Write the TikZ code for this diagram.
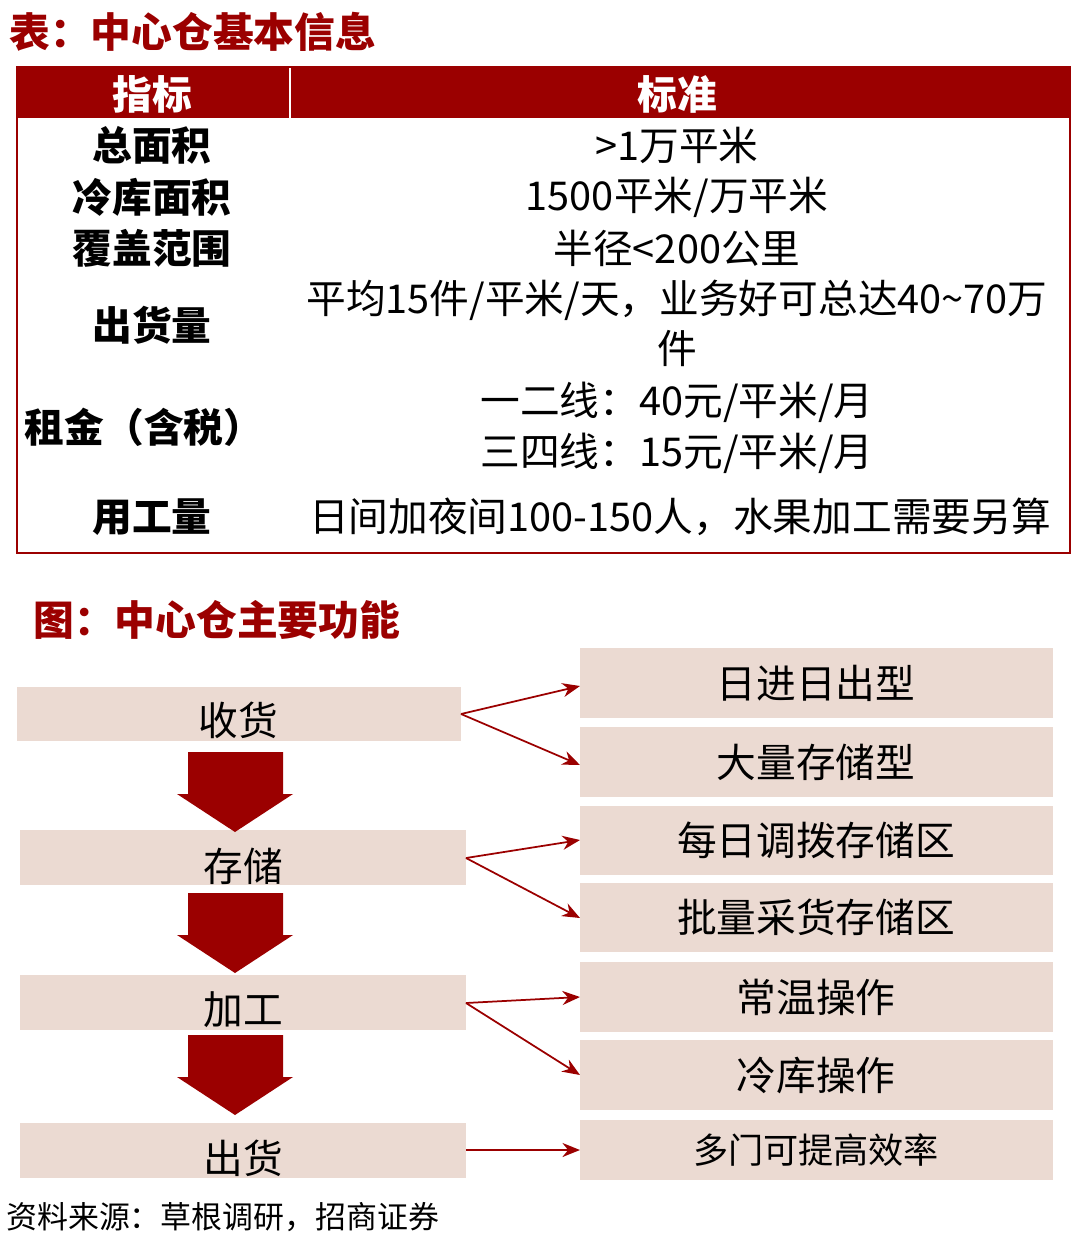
\documentclass[tikz,border=0pt]{standalone}
\usepackage{fontspec}
\setmainfont{Noto Sans CJK SC}
\usetikzlibrary{arrows.meta}
\definecolor{dred}{HTML}{9B0000}
\definecolor{boxc}{HTML}{EBDAD2}
\begin{document}
\begin{tikzpicture}[x=0.1cm,y=-0.1cm,
  big/.style={font=\fontsize{113}{125}\selectfont},
  lab/.style={font=\fontsize{113}{125}\selectfont\bfseries},
  ttl/.style={font=\fontsize{116}{130}\selectfont\bfseries,text=dred,anchor=west},
  lbox/.style={fill=boxc,draw=none},
  conn/.style={draw=dred,line width=5pt,-{Stealth[length=50pt,width=40pt]}},
  downarr/.style={fill=dred,draw=none}]
\useasboundingbox (0,0) rectangle (1080,1248);
\node[ttl] (t1) at (8,32) {表：中心仓基本信息};
\fill[dred] (17,67) rectangle (1070,118);
\draw[white,line width=3pt] (290,67) -- (290,118);
\draw[dred,line width=6pt] (17,67) rectangle (1070,553);
\node[lab,text=white] (h1) at (152,94) {指标};
\node[lab,text=white] (h2) at (677,94) {标准};
\node[lab] (a1) at (152,145) {总面积};
\node[big] (b1) at (677,145) {>1万平米};
\node[lab] (a2) at (152,197) {冷库面积};
\node[big] (b2) at (677,197) {1500平米/万平米};
\node[lab] (a3) at (152,248) {覆盖范围};
\node[big] (b3) at (677,248) {半径<200公里};
\node[lab] (a4) at (152,325) {出货量};
\node[big] (b4) at (677,300) {平均15件/平米/天，业务好可总达40\textasciitilde70万};
\node[big] (b4b) at (677,348) {件};
\node[lab] (a5) at (144,427) {租金（含税）};
\node[big] (b5) at (677,402) {一二线：40元/平米/月};
\node[big] (b5b) at (677,453) {三四线：15元/平米/月};
\node[lab] (a6) at (152,517) {用工量};
\node[big] (b6) at (680,517) {日间加夜间100-150人，水果加工需要另算};
\node[ttl] (t2) at (32,620) {图：中心仓主要功能};
\fill[lbox] (17,687) rectangle (461,741);
\fill[lbox] (20,830) rectangle (466,885);
\fill[lbox] (20,975) rectangle (466,1030);
\fill[lbox] (20,1123) rectangle (466,1178);
\node[big] (l1) at (238,720) {收货};
\node[big] (l2) at (243,866) {存储};
\node[big] (l3) at (243,1010) {加工};
\node[big] (l4) at (243,1158) {出货};
\foreach \y in {752,893,1035}{
 \fill[downarr] (188,\y) -- (283,\y) -- (283,\y+42) -- (293,\y+42) -- (235,\y+80) -- (177,\y+42) -- (188,\y+42) -- cycle;}
\foreach \n/\a/\b/\t in {r1/648/718/日进日出型,r2/727/797/大量存储型,r3/806/875/每日调拨存储区,r4/883/952/批量采货存储区,r5/962/1032/常温操作,r6/1040/1110/冷库操作}{
 \fill[lbox] (580,\a) rectangle (1053,\b);
 \node[big] (\n) at (816,{(\a+\b)/2}) {\t};}
\fill[lbox] (580,1120) rectangle (1053,1180);
\node[font=\fontsize{100}{112}\selectfont] (r7) at (816,1150) {多门可提高效率};
\coordinate (s1) at (461,714); \coordinate (s2) at (466,858);
\coordinate (s3) at (466,1003); \coordinate (s4) at (466,1150);
\coordinate (e1) at (580,686); \coordinate (e2) at (580,765);
\coordinate (e3) at (580,840); \coordinate (e4) at (580,918);
\coordinate (e5) at (580,997); \coordinate (e6) at (580,1075);
\coordinate (e7) at (580,1150);
\draw[conn] (s1) -- (e1); \draw[conn] (s1) -- (e2);
\draw[conn] (s2) -- (e3); \draw[conn] (s2) -- (e4);
\draw[conn] (s3) -- (e5); \draw[conn] (s3) -- (e6);
\draw[conn] (s4) -- (e7);
\node[font=\fontsize{88}{100}\selectfont,anchor=west] (src) at (5,1217) {资料来源：草根调研，招商证券};
\end{tikzpicture}
\end{document}
